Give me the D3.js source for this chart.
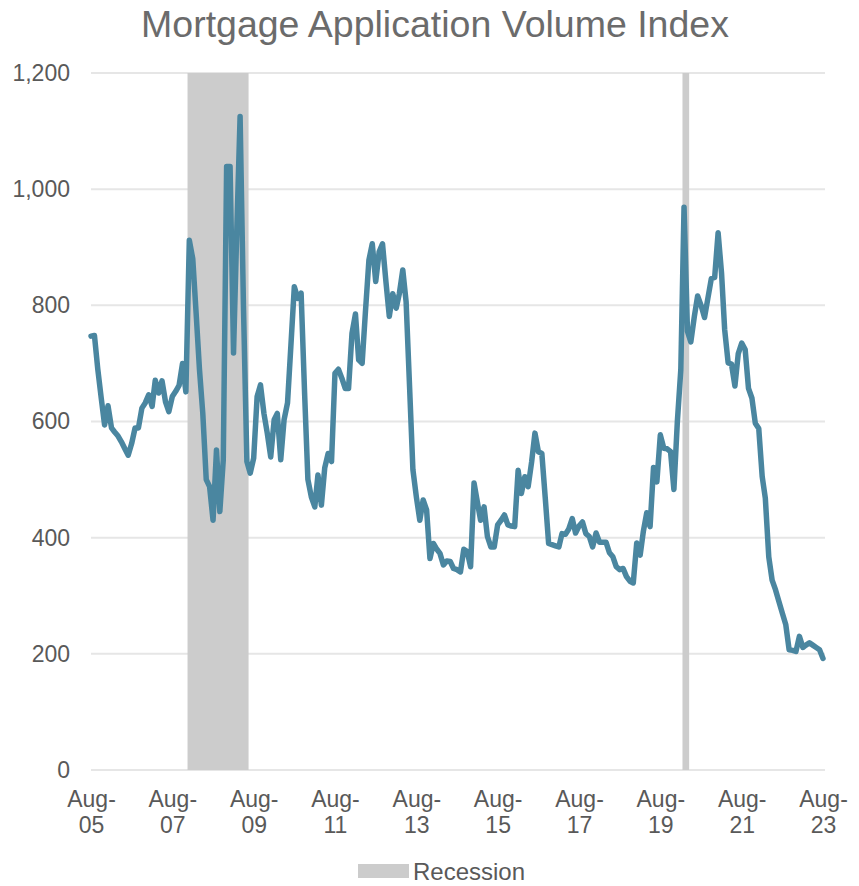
<!DOCTYPE html>
<html>
<head>
<meta charset="utf-8">
<script src="https://cdn.jsdelivr.net/npm/d3@7"></script>
<style>
  body { margin: 0; background: #fff; }
  svg text { font-family: "Liberation Sans", Arial, sans-serif; }
</style>
</head>
<body>
<div id="chart"></div>
<script>
// monthly index values, Aug 2005 .. Aug 2023
const firstMonth = "2005-08";
const values = [
  747, 748, 690, 640, 594, 627, 589, 582, 575, 565, 553, 542,
  562, 589, 589, 623, 632, 646, 626, 671, 649, 670, 634, 617,
  643, 652, 662, 700, 651, 912, 880, 790, 690, 614, 500, 488,
  430, 551, 445, 534, 1039, 1039, 718, 920, 1125, 800, 531, 511,
  537, 643, 663, 614, 580, 539, 603, 614, 534, 603, 632, 730,
  832, 812, 821, 650, 500, 470, 453, 508, 456, 520, 545, 531,
  683, 690, 675, 657, 657, 752, 785, 706, 700, 790, 878, 906,
  841, 892, 906, 840, 781, 820, 795, 820, 861, 806, 660, 517,
  470, 430, 465, 448, 364, 390, 380, 373, 353, 360, 359, 347,
  345, 341, 380, 376, 350, 494, 460, 430, 453, 402, 384, 384,
  422, 430, 439, 422, 420, 419, 516, 476, 505, 488, 530, 580,
  548, 545, 470, 390, 388, 386, 384, 407, 406, 415, 433, 408,
  420, 427, 407, 402, 384, 408, 392, 392, 392, 374, 367, 350,
  345, 347, 333, 325, 322, 391, 370, 410, 443, 419, 521, 496,
  577, 554, 553, 548, 483, 600, 689, 969, 755, 737, 780, 816,
  800, 779, 812, 846, 848, 925, 855, 758, 701, 699, 661, 717,
  735, 724, 657, 640, 597, 588, 505, 468, 367, 327, 310, 290,
  270, 250, 207, 206, 204, 230, 211, 215, 219, 215, 211, 207,
  192
];
const recessionStarts = ["2007-12", "2020-02"];
const recessionEnds = ["2009-06", "2020-04"];
const yTicks = [0, 200, 400, 600, 800, 1000, 1200];
const xTickMonths = ["2005-08", "2007-08", "2009-08", "2011-08", "2013-08", "2015-08",
                     "2017-08", "2019-08", "2021-08", "2023-08"];

const width = 859, height = 886;
const margin = { left: 91, right: 36, top: 73, bottom: 116 };

const parseMonth = d3.timeParse("%Y-%m");
const start = parseMonth(firstMonth);
const data = values.map((v, i) => ({ date: d3.timeMonth.offset(start, i), value: v }));

const svg = d3.select("#chart").append("svg")
  .attr("width", width)
  .attr("height", height);

const x = d3.scaleTime()
  .domain([start, data[data.length - 1].date])
  .range([margin.left, width - margin.right]);

const y = d3.scaleLinear()
  .domain([0, 1200])
  .range([height - margin.bottom, margin.top]);

// gridlines
svg.append("g")
  .selectAll("line")
  .data(yTicks)
  .join("line")
  .attr("x1", margin.left)
  .attr("x2", width - margin.right + 2)
  .attr("y1", d => y(d))
  .attr("y2", d => y(d))
  .attr("stroke", "#e6e6e6")
  .attr("stroke-width", 2);

// recession bands (drawn mid-month to mid-month)
const midMonth = s => d3.timeDay.offset(parseMonth(s), 15);
svg.append("g")
  .selectAll("rect")
  .data(recessionStarts.map((s, i) => ({ s: midMonth(s), e: midMonth(recessionEnds[i]) })))
  .join("rect")
  .attr("x", d => x(d.s))
  .attr("width", d => x(d.e) - x(d.s))
  .attr("y", y(1200))
  .attr("height", y(0) - y(1200))
  .attr("fill", "#cccccc");

// line
svg.append("path")
  .datum(data)
  .attr("fill", "none")
  .attr("stroke", "#4a86a0")
  .attr("stroke-width", 5.5)
  .attr("stroke-linejoin", "round")
  .attr("stroke-linecap", "round")
  .attr("d", d3.line().x(d => x(d.date)).y(d => y(d.value)));

// y axis labels
const yAxis = svg.append("g")
  .attr("transform", `translate(${margin.left - 21},0)`)
  .call(d3.axisLeft(y).tickValues(yTicks).tickSize(0).tickPadding(0).tickFormat(d3.format(",")));
yAxis.select(".domain").remove();
yAxis.selectAll("text")
  .attr("fill", "#595959")
  .style("font-size", "23px");

// x axis labels, two lines each
const fmtMon = d3.timeFormat("%b-");
const fmtYr = d3.timeFormat("%y");
const xAxis = svg.append("g")
  .attr("transform", `translate(0,${height - margin.bottom})`)
  .call(d3.axisBottom(x).tickValues(xTickMonths.map(parseMonth)).tickSize(0).tickFormat(""));
xAxis.select(".domain").remove();
xAxis.selectAll(".tick").each(function(d) {
  const t = d3.select(this).append("text")
    .attr("fill", "#595959")
    .attr("text-anchor", "middle")
    .style("font-size", "23px");
  t.append("tspan").attr("x", 0).attr("y", 37).text(fmtMon(d));
  t.append("tspan").attr("x", 0).attr("y", 63).text(fmtYr(d));
});

// title
svg.append("text")
  .attr("x", 435)
  .attr("y", 37)
  .attr("text-anchor", "middle")
  .attr("fill", "#6b6b6b")
  .style("font-size", "37.5px")
  .text("Mortgage Application Volume Index");

// legend
const legend = svg.append("g").attr("transform", "translate(358,864)");
legend.append("rect").attr("width", 51).attr("height", 14).attr("fill", "#cccccc");
legend.append("text")
  .attr("x", 55)
  .attr("y", 16)
  .attr("fill", "#595959")
  .style("font-size", "24px")
  .text("Recession");
</script>
</body>
</html>
